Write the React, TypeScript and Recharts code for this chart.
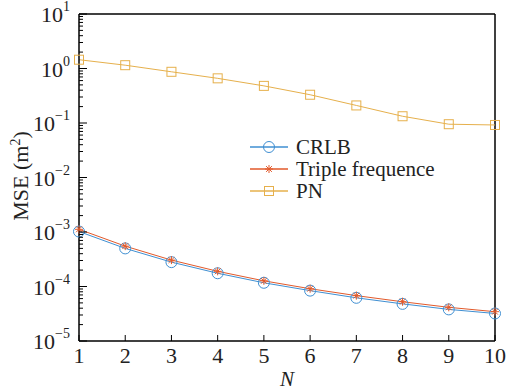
import React from 'react';
import {
  LineChart,
  Line,
  XAxis,
  YAxis,
  Legend,
  ReferenceLine,
} from 'recharts';

// N values on the x axis
const nValues = [1, 2, 3, 4, 5, 6, 7, 8, 9, 10];

// MSE per N
const crlb = [1.02e-3, 5.0e-4, 2.8e-4, 1.75e-4, 1.17e-4, 8.4e-5, 6.2e-5, 4.8e-5, 3.8e-5, 3.2e-5];
const tripleFreq = [1.12e-3, 5.5e-4, 3.05e-4, 1.9e-4, 1.27e-4, 9.1e-5, 6.8e-5, 5.25e-5, 4.15e-5, 3.45e-5];
const pn = [1.45, 1.15, 0.87, 0.66, 0.48, 0.33, 0.21, 0.133, 0.095, 0.092];

const decades = [-5, -4, -3, -2, -1, 0];
const yTicks = [
  ...decades.flatMap((d) => [1, 2, 3, 4, 5, 6, 7, 8, 9].map((k) => k * Math.pow(10, d))),
  10,
];

const FONT = '"Liberation Serif", "DejaVu Serif", serif';

const COLORS = {
  crlb: '#3f8fd2',
  triple: '#e2592a',
  pn: '#e6b04c',
};

const data = nValues.map((n, i) => ({
  n,
  crlb: crlb[i],
  triple: tripleFreq[i],
  pn: pn[i],
}));

type MarkerKind = 'circle' | 'star' | 'square';

const Marker = ({ kind, cx, cy, color }: { kind: MarkerKind; cx: number; cy: number; color: string }) => {
  if (kind === 'circle') {
    return <circle cx={cx} cy={cy} r={5.5} fill="none" stroke={color} strokeWidth={1} />;
  }
  if (kind === 'square') {
    return <rect x={cx - 4.5} y={cy - 4.5} width={9} height={9} fill="none" stroke={color} strokeWidth={1} />;
  }
  const s = 4;
  const d = 2.9;
  return (
    <g stroke={color} strokeWidth={1}>
      <line x1={cx - s} x2={cx + s} y1={cy} y2={cy} />
      <line x1={cx} x2={cx} y1={cy - s} y2={cy + s} />
      <line x1={cx - d} x2={cx + d} y1={cy - d} y2={cy + d} />
      <line x1={cx - d} x2={cx + d} y1={cy + d} y2={cy - d} />
    </g>
  );
};

const series: { key: string; name: string; color: string; kind: MarkerKind }[] = [
  { key: 'crlb', name: 'CRLB', color: COLORS.crlb, kind: 'circle' },
  { key: 'triple', name: 'Triple frequence', color: COLORS.triple, kind: 'star' },
  { key: 'pn', name: 'PN', color: COLORS.pn, kind: 'square' },
];

const YTick = (props: any) => {
  const { x, y, payload } = props;
  const lg = Math.log10(payload.value);
  const e = Math.round(lg);
  const major = Math.abs(lg - e) < 1e-6;
  return (
    <g>
      <line x1={x} x2={x + (major ? 8 : 4)} y1={y} y2={y} stroke="#000" strokeWidth={1} />
      {major && (
        <text x={x - 9} y={y + 8} textAnchor="end" fontSize={22} fontFamily={FONT} fill="#222">
          10
          <tspan dy={-11} fontSize={14}>
            {e < 0 ? '\u2212' + -e : String(e)}
          </tspan>
        </text>
      )}
    </g>
  );
};

const XTick = (props: any) => {
  const { x, y, payload } = props;
  return (
    <g>
      <line x1={x} x2={x} y1={y} y2={y - 6} stroke="#000" strokeWidth={1} />
      <text x={x} y={y + 22} textAnchor="middle" fontSize={22} fontFamily={FONT} fill="#222">
        {payload.value}
      </text>
    </g>
  );
};

const LegendBox = () => (
  <div style={{ fontFamily: FONT, fontSize: 21, color: '#222', lineHeight: '22px' }}>
    {series.map((s) => (
      <div key={s.key} style={{ display: 'flex', alignItems: 'center', height: 22 }}>
        <svg width={46} height={22}>
          <line x1={0} x2={38} y1={11} y2={11} stroke={s.color} strokeWidth={1.5} />
          <Marker kind={s.kind} cx={19} cy={11} color={s.color} />
        </svg>
        <span>{s.name}</span>
      </div>
    ))}
  </div>
);

const App: React.FC = () => {
  return (
    <div style={{ position: 'absolute', left: 0, top: 0, background: '#fff' }}>
      <LineChart
        width={506}
        height={392}
        data={data}
        margin={{ top: 14, right: 11, bottom: 0, left: 0 }}
      >
        <XAxis
          dataKey="n"
          type="number"
          domain={[1, 10]}
          ticks={nValues}
          interval={0}
          height={51}
          tickLine={false}
          tickSize={0}
          tickMargin={0}
          tick={<XTick />}
          axisLine={{ stroke: '#000', strokeWidth: 1.5 }}
          label={{
            value: 'N',
            position: 'insideBottom',
            offset: 6,
            style: { fontFamily: FONT, fontSize: 21, fontStyle: 'italic', fill: '#222' },
          }}
        />
        <YAxis
          type="number"
          scale="log"
          domain={[1e-5, 10]}
          allowDataOverflow
          ticks={yTicks}
          interval={0}
          width={79}
          tickLine={false}
          tickSize={0}
          tickMargin={0}
          tick={<YTick />}
          axisLine={{ stroke: '#000', strokeWidth: 1.5 }}
          label={{
            content: () => (
              <text
                x={28}
                y={176}
                transform="rotate(-90 28 176)"
                textAnchor="middle"
                fontSize={22}
                fontFamily={FONT}
                fill="#222"
              >
                MSE (m
                <tspan dy={-8} fontSize={14}>2</tspan>
                <tspan dy={8}>)</tspan>
              </text>
            ),
          }}
        />
        <ReferenceLine y={10} stroke="#000" strokeWidth={1.5} />
        <ReferenceLine x={10} stroke="#000" strokeWidth={1.5} />
        <Legend
          layout="horizontal"
          verticalAlign="middle"
          align="center"
          content={<LegendBox />}
          wrapperStyle={{ left: 250, top: 136, width: 'auto' }}
        />
        {series.map((s) => (
          <Line
            key={s.key}
            dataKey={s.key}
            name={s.name}
            type="linear"
            stroke={s.color}
            strokeWidth={1}
            isAnimationActive={false}
            dot={(p: any) => (
              <Marker key={`${s.key}-${p.index}`} kind={s.kind} cx={p.cx} cy={p.cy} color={s.color} />
            )}
          />
        ))}
      </LineChart>
    </div>
  );
};

export default App;
